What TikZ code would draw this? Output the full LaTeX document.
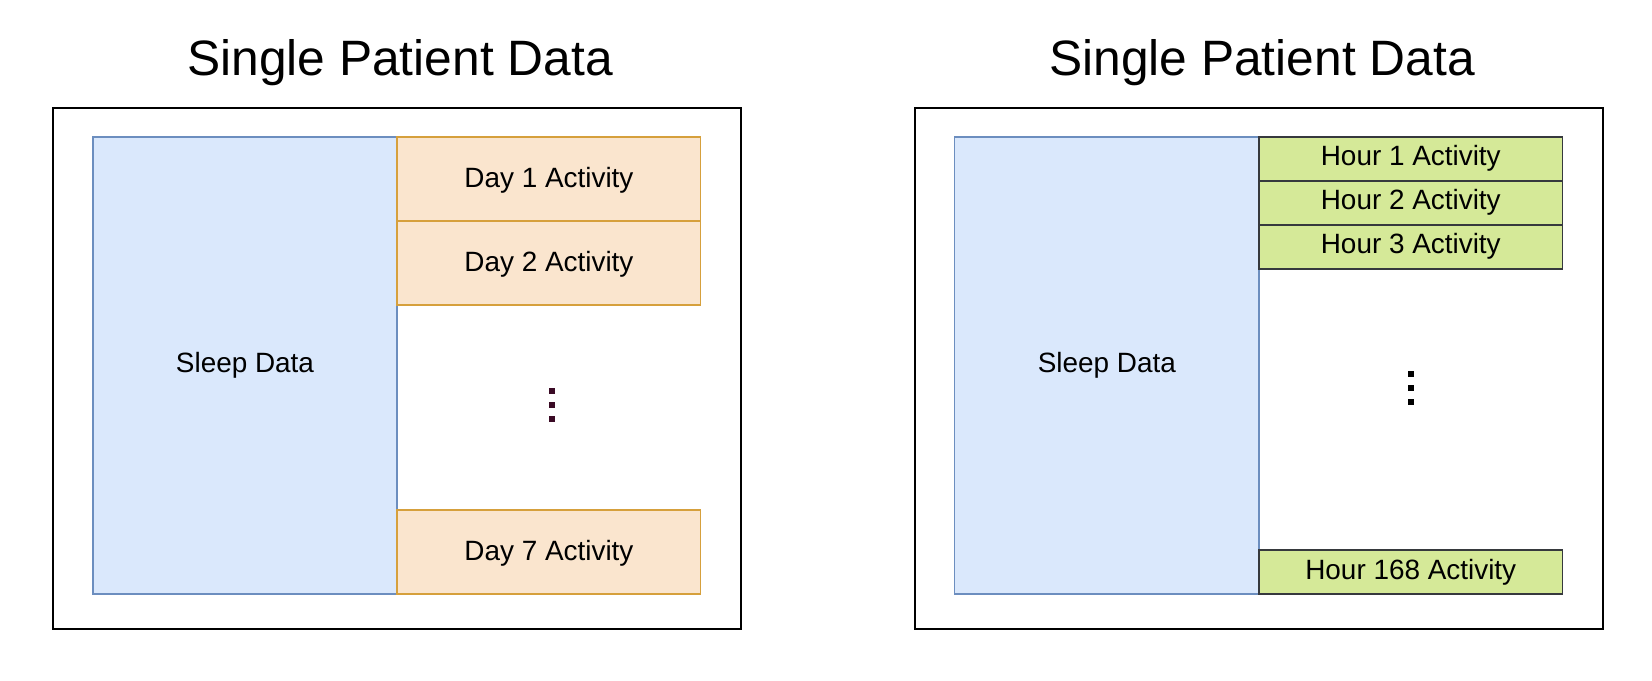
\documentclass[tikz,border=0pt]{standalone}
\usepackage{fontspec}
\setmainfont{Liberation Sans}
\usetikzlibrary{positioning, calc}
\definecolor{sleepFill}{HTML}{DAE8FC}
\definecolor{sleepLine}{HTML}{6C8EBF}
\definecolor{dayFill}{HTML}{FAE5CE}
\definecolor{dayLine}{HTML}{D6A03C}
\definecolor{hourFill}{HTML}{D5E998}
\definecolor{hourLine}{HTML}{36393D}
\definecolor{dotDark}{HTML}{3A0A25}

\begin{document}
\begin{tikzpicture}[
  x=0.5pt, y=0.5pt,
  font=\fontsize{13.95}{16}\selectfont,
  every node/.style={inner sep=0pt, outer sep=0pt},
  frame/.style={draw=black, line width=1pt,
               minimum width=344pt, minimum height=260.25pt},
  title/.style={font=\fontsize{24.85}{30}\selectfont, anchor=base},
  box/.style={line width=0.8pt, text depth=0pt},
  sleepbox/.style={box, draw=sleepLine, fill=sleepFill, text height=0.74em,
               minimum width=152.25pt, minimum height=228.6pt},
  daybox/.style={box, draw=dayLine, fill=dayFill, text height=0.81em,
               minimum width=151.7pt, minimum height=42pt},
  hourbox/.style={box, draw=hourLine, fill=hourFill, text height=0.68em,
               minimum width=151.7pt, minimum height=22pt},
]
\useasboundingbox (0,0) rectangle (1652,680);

% daily activity
\node[frame] (frameL) at (396.7,311.25) {};
\node[title] (titleL) at (400,604) {Single Patient Data};
\node[sleepbox] (sleepL) at (245,314.4) {Sleep Data};
\node[daybox, anchor=north west] (day1) at (sleepL.north east) {Day 1 Activity};
\node[daybox, below=0pt of day1] (day2) {Day 2 Activity};
\node[daybox, anchor=south west] (day7) at (sleepL.south east) {Day 7 Activity};
\coordinate (gapL) at (552,274.7);
\foreach \k in {-1,0,1}
  \fill[dotDark] ($(gapL)+(-3,{\k*14-3})$) rectangle ++(6,6);

% hourly activity
\node[frame] (frameR) at (1258.5,311.25) {};
\node[title] (titleR) at (1262,604) {Single Patient Data};
\node[sleepbox] (sleepR) at (1106.8,314.4) {Sleep Data};
\node[hourbox, anchor=north west] (hour1) at (sleepR.north east) {Hour 1 Activity};
\node[hourbox, below=0pt of hour1] (hour2) {Hour 2 Activity};
\node[hourbox, below=0pt of hour2] (hour3) {Hour 3 Activity};
\node[hourbox, anchor=south west] (hour168) at (sleepR.south east) {Hour 168 Activity};
\coordinate (gapR) at (1410.7,292);
\foreach \k in {-1,0,1}
  \fill[black] ($(gapR)+(-3,{\k*14-3})$) rectangle ++(6,6);

\end{tikzpicture}
\end{document}
